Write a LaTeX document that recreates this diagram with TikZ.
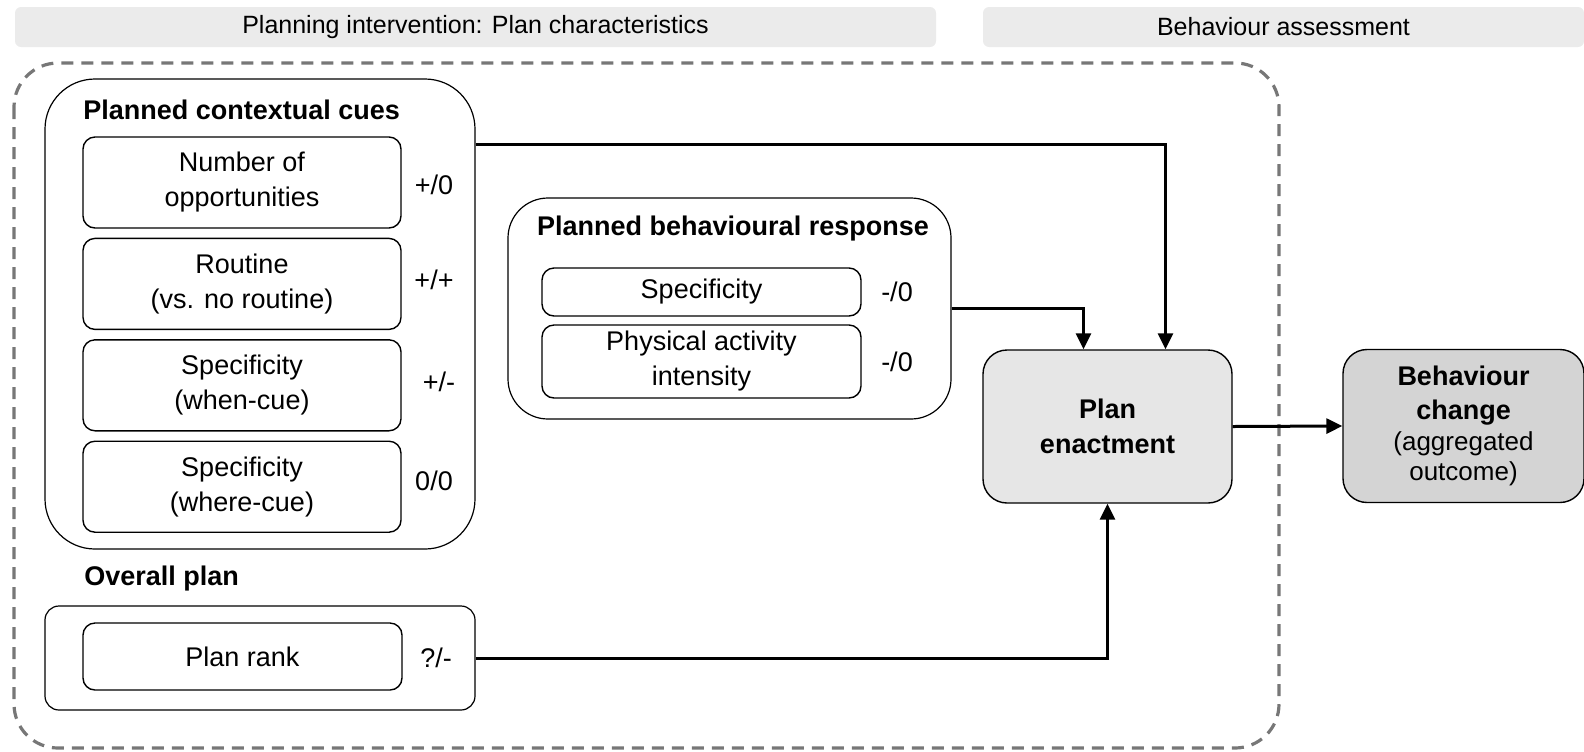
\documentclass[tikz,border=0pt]{standalone}
\usepackage{fontspec}
\setmainfont{Liberation Sans}
\usepackage{xcolor}
\usetikzlibrary{arrows.meta,positioning}
\definecolor{bandgray}{HTML}{EBEBEB}
\definecolor{enactgray}{HTML}{E6E6E6}
\definecolor{outgray}{HTML}{D4D4D4}
\definecolor{dashgray}{HTML}{777777}
\tikzset{
  band/.style={
    fill=bandgray,
    rounded corners=3pt,
    minimum height=20pt,
    inner sep=0pt,
    font=\fontsize{12.5}{15}\selectfont
  },
  group/.style={
    draw,
    line width=0.6pt,
    inner sep=0pt
  },
  item/.style={
    draw,
    rounded corners=6pt,
    align=center,
    line width=0.7pt,
    inner sep=0pt,
    minimum width=159pt,
    font=\fontsize{13.5}{17.5}\selectfont
  },
  sign/.style={font=\fontsize{13.5}{16}\selectfont},
  grouptitle/.style={inner sep=0pt, font=\fontsize{13.5}{16}\selectfont\bfseries},
  stage/.style={
    draw,
    line width=0.7pt,
    rounded corners=12pt,
    align=center,
    inner sep=0pt,
    minimum width=124.5pt,
    minimum height=76.5pt
  },
  flow/.style={-{Triangle[length=8pt,width=7.5pt]}, line width=1.5pt}
}
\begin{document}
\begin{tikzpicture}[x=0.5pt,y=-0.5pt,node distance=4.5pt]
  \useasboundingbox (0,0) rectangle (1584,751);

  \node[band, minimum width=460.5pt] (bandplan) at (475.5,27)
    {Planning intervention: Plan characteristics};
  \node[band, minimum width=300.5pt] (bandassess) at (1283.5,27)
    {Behaviour assessment};

  \draw[dashgray, line width=1.6pt, dash pattern=on 6pt off 4pt, rounded corners=22pt]
    (14,63) rectangle (1279,748);

  \node[group, rounded corners=25pt, minimum width=215pt, minimum height=235pt] (cues) at (260,314) {};
  \node[grouptitle, anchor=west] (cuestitle) at (83,110) {Planned contextual cues};
  \node[item, minimum height=45.5pt] (opps) at (242,182.5) {Number of\\opportunities};
  \node[item, minimum height=45.5pt, below=of opps] (routine) {Routine\\(vs. no routine)};
  \node[item, minimum height=45.5pt, below=of routine] (whencue) {Specificity\\(when-cue)};
  \node[item, minimum height=45.5pt, below=of whencue] (wherecue) {Specificity\\(where-cue)};
  \node[sign] (sopps) at (434,185) {+/0};
  \node[sign] (sroutine) at (434,280) {+/+};
  \node[sign] (swhen) at (439,382) {+/-};
  \node[sign] (swhere) at (434,481) {0/0};

  \node[grouptitle, anchor=west] (overalltitle) at (84,579) {Overall plan};
  \node[group, rounded corners=7pt, minimum width=215pt, minimum height=52pt] (overall) at (260,658) {};
  \node[item, minimum width=159.5pt, minimum height=33.5pt] (rank) at (242.5,656.5) {Plan rank};
  \node[sign] (srank) at (436,658) {?/-};

  \node[group, rounded corners=20pt, minimum width=221.5pt, minimum height=110.5pt] (response) at (729.5,308.5) {};
  \node[grouptitle] (responsetitle) at (733,229) {Planned behavioural response};
  \node[item, minimum width=159.5pt, minimum height=24pt] (rspec) at (701.5,292) {Specificity};
  \node[item, minimum width=159.5pt, minimum height=36.5pt] (intensity) at (701.5,361.5) {Physical activity\\intensity};
  \node[sign] (srspec) at (897,292) {-/0};
  \node[sign] (sintensity) at (897,362) {-/0};

  \node[stage, fill=enactgray, font=\fontsize{13.5}{17.25}\selectfont\bfseries] (enact) at (1107.5,426.5)
    {Plan\\enactment};
  \node[stage, fill=outgray, minimum width=120.5pt, font=\fontsize{13}{15}\selectfont] (outcome) at (1463.5,426)
    {\rule{0pt}{5pt}{\fontsize{13.5}{17}\selectfont\bfseries Behaviour}\\[2pt]{\fontsize{13.5}{17}\selectfont\bfseries change}\\[0.5pt](aggregated\\outcome)};

  \draw[flow] ([yshift=-33pt]cues.north east) -| ([xshift=29pt]enact.north);
  \draw[flow] (response.east) -| ([xshift=-12pt]enact.north);
  \draw[flow] (overall.east) -| (enact.south);
  \draw[flow] (enact.east) -- (outcome.west);
\end{tikzpicture}
\end{document}
